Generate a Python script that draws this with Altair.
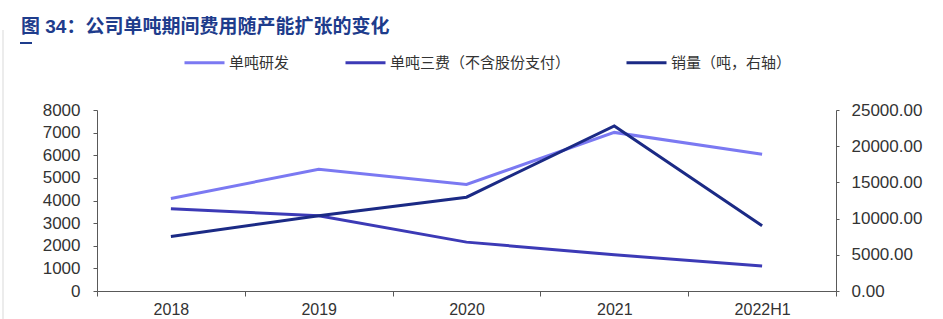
import altair as alt
import pandas as pd

# ---- data ----
years = ["2018", "2019", "2020", "2021", "2022H1"]
rd_per_ton = [4090, 5380, 4710, 7010, 6040]          # 单吨研发 (left axis)
fee_per_ton = [3630, 3330, 2160, 1600, 1110]         # 单吨三费 (left axis)
sales_volume = [7540, 10400, 12960, 22800, 9000]     # 销量 (right axis)

series_names = ["单吨研发", "单吨三费（不含股份支付）", "销量（吨，右轴）"]
series_colors = ["#7B79F2", "#3C3AB6", "#1B2A85"]
left_ticks = [0, 1000, 2000, 3000, 4000, 5000, 6000, 7000, 8000]
right_ticks = [0, 5000, 10000, 15000, 20000, 25000]
title_text = "图 34：公司单吨期间费用随产能扩张的变化"

left_df = pd.DataFrame({
    "year": years * 2,
    "series": [series_names[0]] * len(years) + [series_names[1]] * len(years),
    "value": rd_per_ton + fee_per_ton,
})
right_df = pd.DataFrame({
    "year": years,
    "series": [series_names[2]] * len(years),
    "value": sales_volume,
})
title_df = pd.DataFrame({"t": [title_text]})

FONT = "Liberation Sans, Arial, Noto Sans CJK SC"
TXT = "#333333"
AXC = "#595959"

# plot area in page pixels
PL, PT, PR, PB = 97, 110, 836, 291
W, H = PR - PL, PB - PT

x_enc = alt.X(
    "year:N", sort=years,
    scale=alt.Scale(type="band", paddingInner=0, paddingOuter=0),
    axis=alt.Axis(title=None, labelAngle=0, tickBand="extent", tickSize=5,
                  labelPadding=5, labelFontSize=16, labelFont=FONT,
                  labelColor=TXT, domainColor=AXC, tickColor=AXC, grid=False),
)
color_enc = alt.Color(
    "series:N",
    scale=alt.Scale(domain=series_names, range=series_colors),
    legend=alt.Legend(
        title=None, orient="none", direction="horizontal",
        legendX=183 - PL, legendY=55 - PT - 14,
        symbolType="stroke", symbolSize=1600, symbolStrokeWidth=3,
        labelFontSize=15, labelFont="Noto Sans CJK SC", labelColor=TXT,
        labelOffset=3, columnPadding=49, labelLimit=400,
    ),
)

left = alt.Chart(left_df).mark_line(strokeWidth=3).encode(
    x=x_enc,
    y=alt.Y("value:Q",
            scale=alt.Scale(domain=[0, 8000], nice=False),
            axis=alt.Axis(title=None, orient="left", values=left_ticks,
                          format="d", tickSize=4, labelPadding=13,
                          labelFontSize=17, labelFont=FONT, labelColor=TXT,
                          domainColor=AXC, tickColor=AXC, grid=False)),
    color=color_enc,
)

right = alt.Chart(right_df).mark_line(strokeWidth=3).encode(
    x=x_enc,
    y=alt.Y("value:Q",
            scale=alt.Scale(domain=[0, 25000], nice=False),
            axis=alt.Axis(title=None, orient="right", values=right_ticks,
                          format=".2f", tickSize=3, labelPadding=12,
                          labelFontSize=17, labelFont=FONT, labelColor=TXT,
                          domainColor=AXC, tickColor=AXC, grid=False)),
    color=color_enc,
)

title = alt.Chart(title_df).mark_text(
    align="left", baseline="middle", fontSize=19, fontWeight="bold",
    font=FONT, color="#1E3C8C",
).encode(x=alt.value(21 - PL), y=alt.value(27 - PT), text="t:N")

underline = alt.Chart(title_df).mark_rule(color="#1E3C8C", strokeWidth=2).encode(
    x=alt.value(20 - PL), x2=alt.value(32 - PL), y=alt.value(43 - PT)
)
side_line = alt.Chart(title_df).mark_rule(color="#D9D9D9", strokeWidth=1).encode(
    x=alt.value(3 - PL), y=alt.value(30 - PT), y2=alt.value(319 - PT)
)

chart = (
    alt.layer(left, right, title, underline, side_line)
    .resolve_scale(y="independent")
    .properties(
        width=W, height=H,
        autosize=alt.AutoSizeParams(type="none"),
        padding={"left": PL, "top": PT, "right": 943 - PR, "bottom": 319 - PB},
        background="white",
    )
    .configure_view(stroke=None)
)

chart.save("out.html", embed_options={"renderer": "svg", "actions": False})
